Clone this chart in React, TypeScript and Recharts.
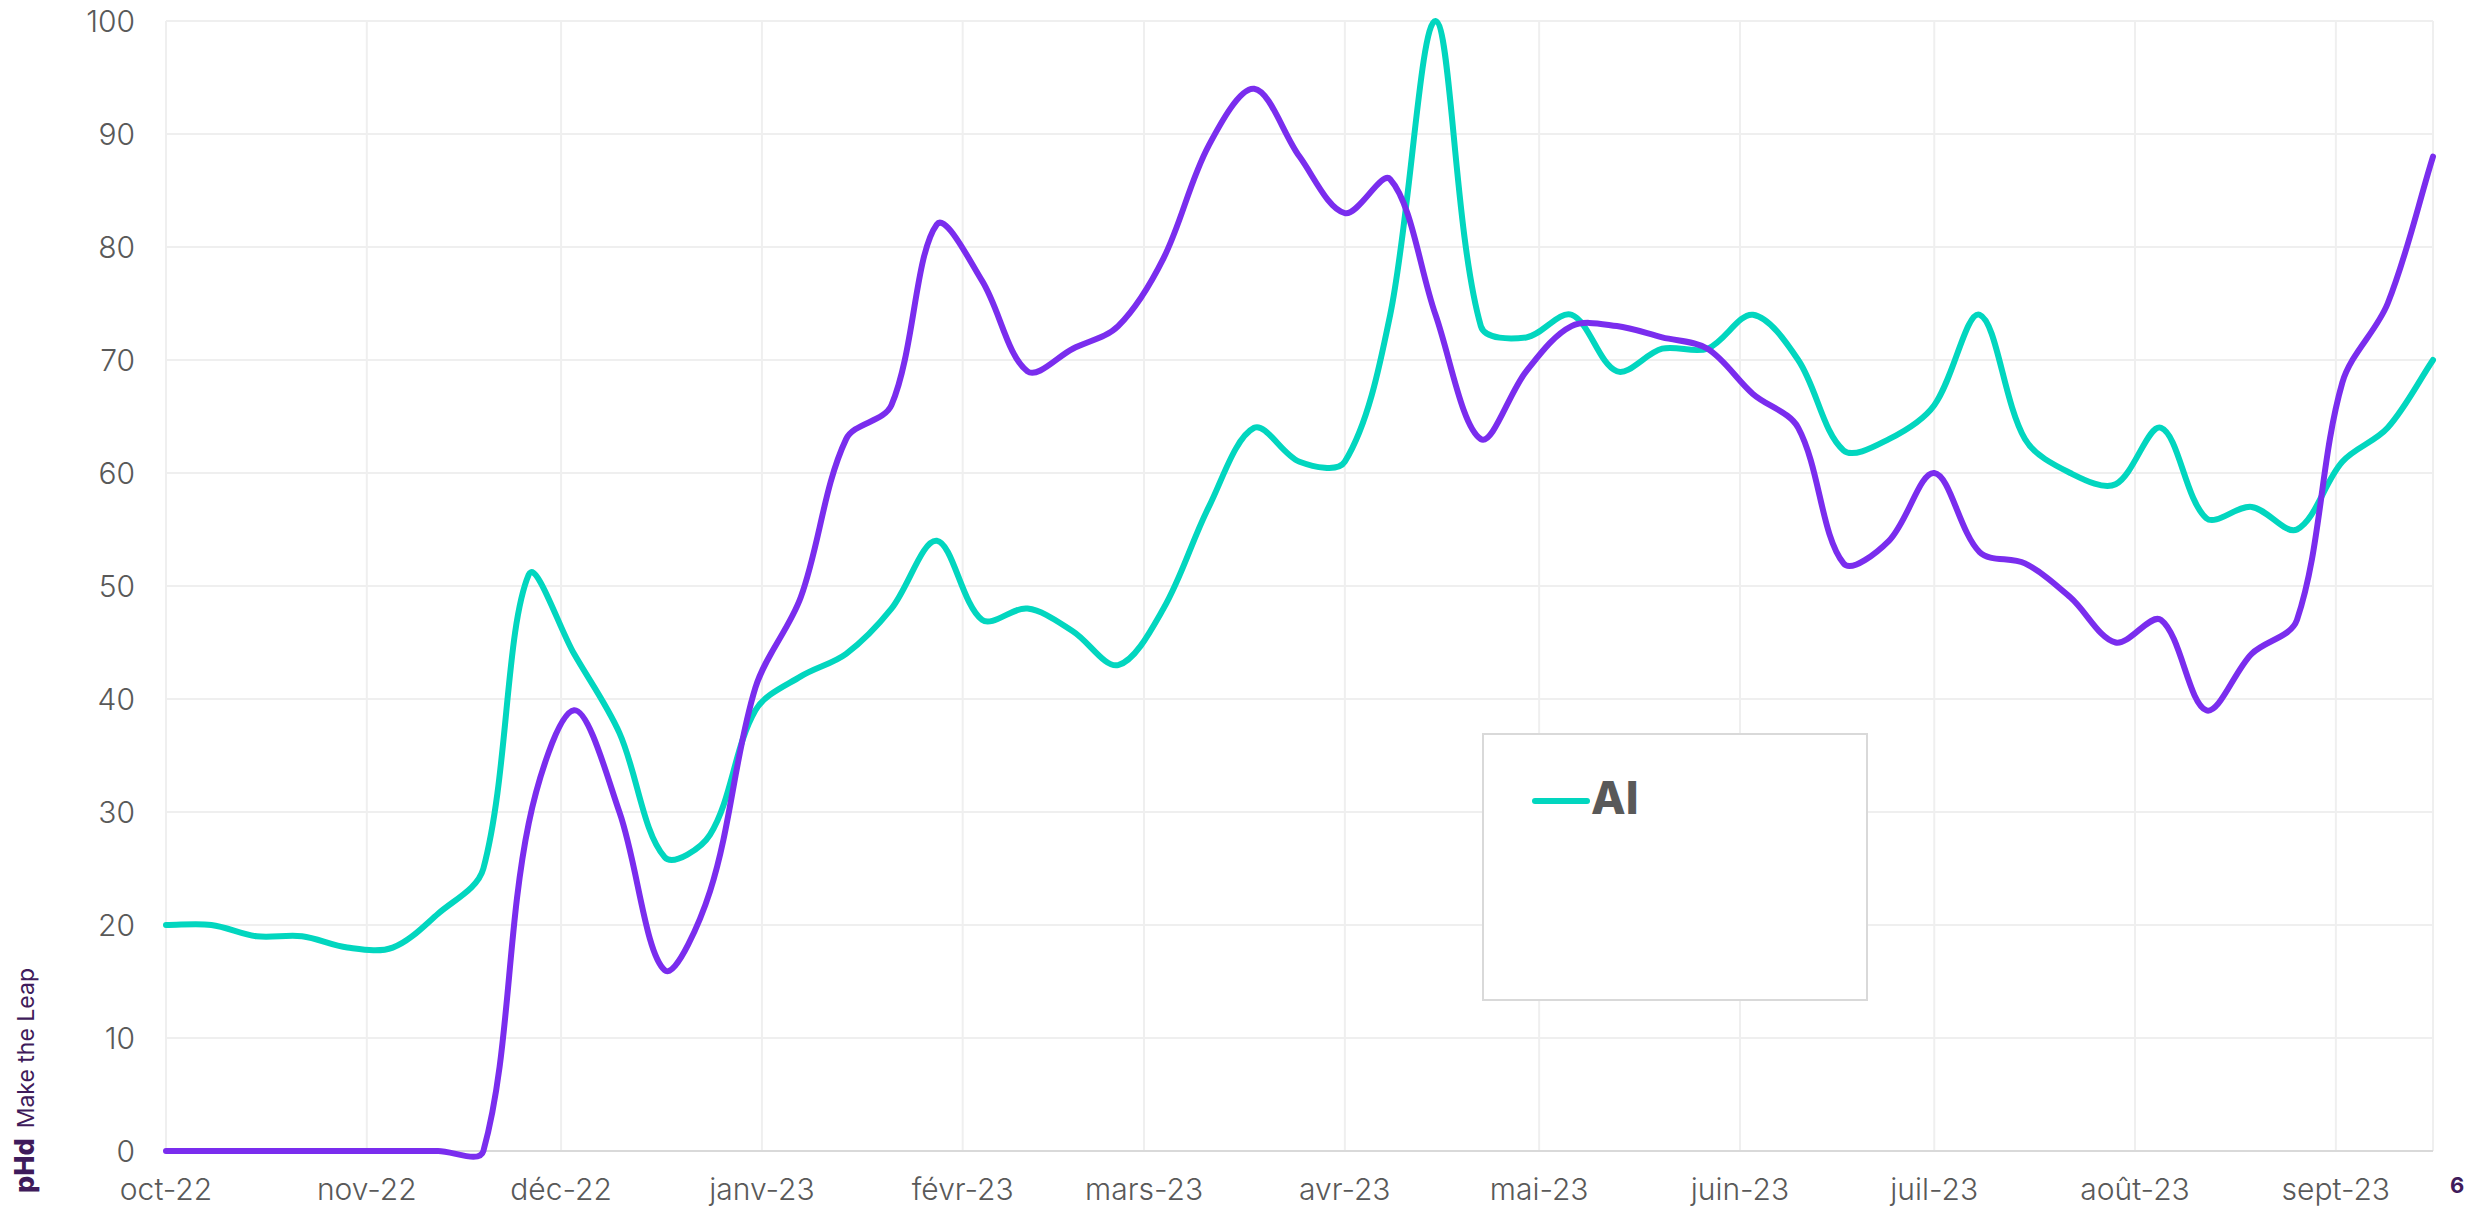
import React from "react"
import { LineChart, Line, XAxis, YAxis, CartesianGrid, Legend, ReferenceLine } from "recharts"

// weekly points (Sunday of each week)
const weeks = [
	"2022-10-02", "2022-10-09", "2022-10-16", "2022-10-23", "2022-10-30",
	"2022-11-06", "2022-11-13", "2022-11-20", "2022-11-27",
	"2022-12-04", "2022-12-11", "2022-12-18", "2022-12-25",
	"2023-01-01", "2023-01-08", "2023-01-15", "2023-01-22", "2023-01-29",
	"2023-02-05", "2023-02-12", "2023-02-19", "2023-02-26",
	"2023-03-05", "2023-03-12", "2023-03-19", "2023-03-26",
	"2023-04-02", "2023-04-09", "2023-04-16", "2023-04-23", "2023-04-30",
	"2023-05-07", "2023-05-14", "2023-05-21", "2023-05-28",
	"2023-06-04", "2023-06-11", "2023-06-18", "2023-06-25",
	"2023-07-02", "2023-07-09", "2023-07-16", "2023-07-23", "2023-07-30",
	"2023-08-06", "2023-08-13", "2023-08-20", "2023-08-27",
	"2023-09-03", "2023-09-10", "2023-09-17",
]

const aiValues = [
	20, 20, 19, 19, 18, 18, 21, 25, 51, 44, 37, 26, 28, 39, 42, 44, 48, 54,
	47, 48, 46, 43, 48, 57, 64, 61, 61, 74, 100, 73, 72, 74, 69, 71, 71, 74,
	70, 62, 63, 66, 74, 63, 60, 59, 64, 56, 57, 55, 61, 64, 70,
]

const otherValues = [
	0, 0, 0, 0, 0, 0, 0, 0, 29, 39, 30, 16, 23, 41, 49, 63, 66, 82,
	77, 69, 71, 73, 79, 89, 94, 88, 83, 86, 74, 63, 69, 73, 73, 72, 71, 67,
	64, 52, 54, 60, 53, 52, 49, 45, 47, 39, 44, 47, 68, 75, 88,
]

const monthTickDates = [
	"2022-10-02", "2022-11-02", "2022-12-02", "2023-01-02", "2023-02-02", "2023-03-02",
	"2023-04-02", "2023-05-02", "2023-06-02", "2023-07-02", "2023-08-02", "2023-09-02",
]
const monthLabels = [
	"oct-22", "nov-22", "déc-22", "janv-23", "févr-23", "mars-23",
	"avr-23", "mai-23", "juin-23", "juil-23", "août-23", "sept-23",
]
const yTicks = [0, 10, 20, 30, 40, 50, 60, 70, 80, 90, 100]

const TEAL = "#02D6BF"
const PURPLE = "#7A2DEE"
const BRAND = "#3F1B5B"
const FONT = "Inter, 'Open Sans', sans-serif"

const START = Date.UTC(2022, 9, 2)
const dayOffset = (iso: string) => {
	const [y, m, d] = iso.split("-").map(Number)
	return Math.round((Date.UTC(y, m - 1, d) - START) / 86400000)
}

const data = weeks.map((w, i) => ({ day: dayOffset(w), ai: aiValues[i], other: otherValues[i] }))
const monthTicks = monthTickDates.map(dayOffset)
const lastDay = dayOffset(weeks[weeks.length - 1])

// office-style smoothed line: bezier through every point, handle length
// weighted by the neighbouring segment lengths so big jumps don't overshoot much
const smoothCurve = (context: any) => {
	let pts: [number, number][] = []
	const dist = (a: [number, number], b: [number, number]) => Math.hypot(b[0] - a[0], b[1] - a[1])
	return {
		areaStart() {},
		areaEnd() {},
		lineStart() {
			pts = []
		},
		lineEnd() {
			const n = pts.length
			if (!n) return
			context.moveTo(pts[0][0], pts[0][1])
			for (let i = 0; i < n - 1; i++) {
				const p0 = pts[Math.max(i - 1, 0)]
				const p1 = pts[i]
				const p2 = pts[i + 1]
				const p3 = pts[Math.min(i + 2, n - 1)]
				const d01 = dist(p0, p1)
				const d12 = dist(p1, p2)
				const d23 = dist(p2, p3)
				const a = d01 + d12 > 0 ? d12 / (d01 + d12) / 3 : 0
				const b = d12 + d23 > 0 ? d12 / (d12 + d23) / 3 : 0
				context.bezierCurveTo(
					p1[0] + (p2[0] - p0[0]) * a,
					p1[1] + (p2[1] - p0[1]) * a,
					p2[0] - (p3[0] - p1[0]) * b,
					p2[1] - (p3[1] - p1[1]) * b,
					p2[0],
					p2[1],
				)
			}
		},
		point(x: number, y: number) {
			pts.push([x, y])
		},
	}
}

const LegendBox = () => (
	<div
		style={{
			position: "relative",
			width: 386,
			height: 268,
			boxSizing: "border-box",
			border: "2px solid #D9D9D9",
			background: "#fff",
		}}
	>
		<div style={{ position: "absolute", left: 48, top: 63, width: 58, height: 6, borderRadius: 3, background: TEAL }} />
		<span
			style={{
				position: "absolute",
				left: 107,
				top: 41,
				fontFamily: FONT,
				fontWeight: 800,
				fontSize: 45,
				lineHeight: "44px",
				color: "#595959",
			}}
		>
			AI
		</span>
	</div>
)

const tickStyle = { fill: "#595959", fontSize: 30, fontFamily: FONT, fontWeight: 300 }

export default function App() {
	return (
		<div style={{ position: "relative", width: 2470, height: 1211, marginTop: -8 }}>
			<LineChart width={2470} height={1211} data={data} margin={{ top: 21, right: 45, bottom: 0, left: 58 }}>
				<CartesianGrid stroke="#EFEFEF" strokeWidth={2} />
				<XAxis
					dataKey="day"
					type="number"
					domain={[0, lastDay]}
					ticks={monthTicks}
					interval={0}
					tickFormatter={(v: number) => monthLabels[monthTicks.indexOf(v)] ?? ""}
					height={60}
					tickLine={false}
					tickSize={0}
					tickMargin={28}
					axisLine={false}
					tick={tickStyle}
				/>
				<YAxis
					domain={[0, 100]}
					ticks={yTicks}
					interval={0}
					width={100}
					tickLine={false}
					tickSize={0}
					tickMargin={31}
					axisLine={false}
					tick={tickStyle}
				/>
				<ReferenceLine y={0} stroke="#D9D9D9" strokeWidth={2} />
				<Legend
					layout="vertical"
					align="center"
					verticalAlign="middle"
					content={() => <LegendBox />}
					wrapperStyle={{ left: 1474, top: 733, width: 386, height: 268 }}
				/>
				<Line
					type={smoothCurve as any}
					dataKey="ai"
					name="AI"
					stroke={TEAL}
					strokeWidth={6}
					strokeLinecap="round"
					dot={false}
					isAnimationActive={false}
				/>
				<Line
					type={smoothCurve as any}
					dataKey="other"
					name="other"
					stroke={PURPLE}
					strokeWidth={6}
					strokeLinecap="round"
					dot={false}
					legendType="none"
					isAnimationActive={false}
				/>
			</LineChart>
			<div
				style={{
					position: "absolute",
					left: 5,
					top: 1193,
					transform: "rotate(-90deg)",
					transformOrigin: "left top",
					whiteSpace: "nowrap",
					fontFamily: FONT,
					fontSize: 23,
					lineHeight: "24px",
					color: BRAND,
				}}
			>
				<b style={{ fontSize: 27, fontWeight: 800 }}>pHd</b>
				<span style={{ marginLeft: 10 }}>Make the Leap</span>
			</div>
			<div
				style={{
					position: "absolute",
					left: 2442,
					top: 1172,
					fontFamily: FONT,
					fontWeight: 700,
					fontSize: 22,
					lineHeight: "26px",
					color: BRAND,
				}}
			>
				6
			</div>
		</div>
	)
}
